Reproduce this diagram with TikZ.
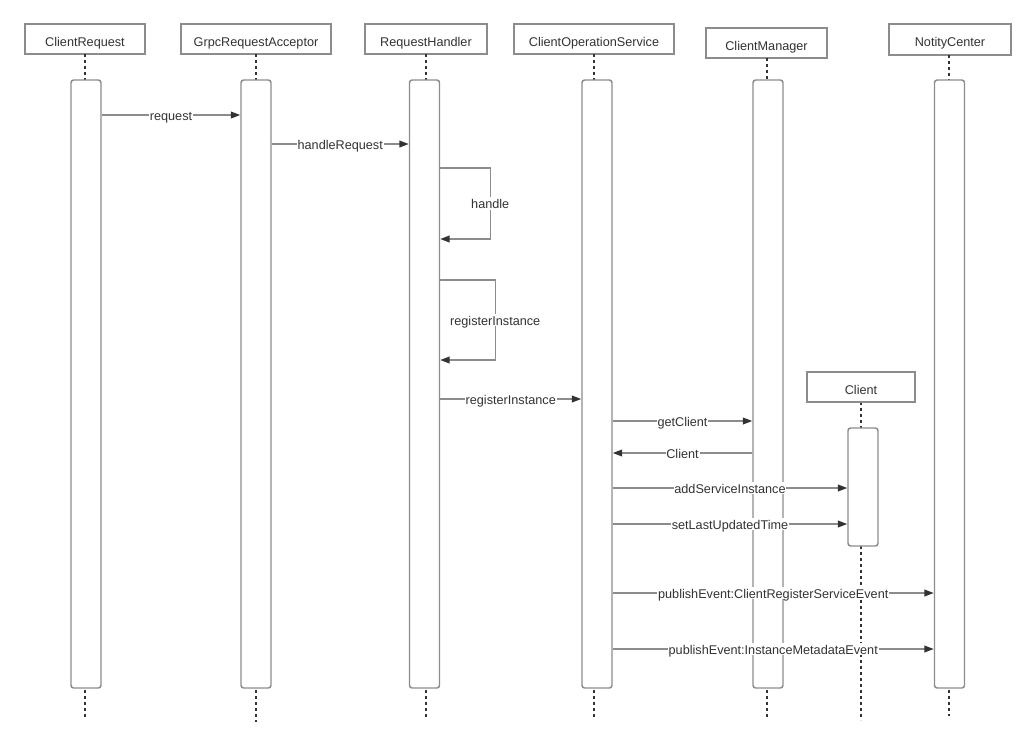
\documentclass[tikz,border=0pt]{standalone}
\usepackage{fontspec}
\setmainfont{Liberation Sans}
\usetikzlibrary{arrows.meta}
\definecolor{linegray}{HTML}{8C8C8C}
\definecolor{txtgray}{HTML}{333333}
\tikzset{
  actor/.style={draw=linegray,line width=1.1pt,fill=white,text=txtgray,
    minimum height=22.5pt,inner sep=0pt,text height=12pt,text depth=0.8pt},
  bar/.style={draw=linegray,line width=1.1pt,fill=white,rounded corners=2pt,
    minimum width=22.5pt,inner sep=0pt},
  life/.style={txtgray,line width=1.6pt,dash pattern=on 2.2pt off 2.3pt},
  msg/.style={draw=linegray,line width=1.1pt,
    -{Triangle[length=7pt,width=5pt,color=txtgray]}},
  lbl/.style={fill=white,text=txtgray,inner sep=0.6pt,text height=8pt,text depth=0.5pt}
}
\begin{document}
\begin{tikzpicture}[x=0.75pt,y=-0.75pt,font=\fontsize{9.5}{11}\selectfont]
        \useasboundingbox (0,0) rectangle (1035,751);
        % actors
        \node[actor,minimum width=90pt] (cr) at (85,39) {ClientRequest};
        \node[actor,minimum width=112.5pt] (gra) at (256,39) {GrpcRequestAcceptor};
        \node[actor,minimum width=91.5pt] (rh) at (426,39) {RequestHandler};
        \node[actor,minimum width=120pt] (cos) at (594,39) {ClientOperationService};
        \node[actor,minimum width=90.75pt] (cm) at (766.5,43) {ClientManager};
        \node[actor,minimum width=91.5pt,minimum height=23.25pt] (nc) at (950,39.5) {NotityCenter};
        % lifelines
        \draw[life] (85,54) -- (85,80);
        \draw[life] (85,690) -- (85,717);
        \draw[life] (256,54) -- (256,80);
        \draw[life] (256,690) -- (256,722);
        \draw[life] (426,54) -- (426,80);
        \draw[life] (426,690) -- (426,717);
        \draw[life] (594,54) -- (594,80);
        \draw[life] (594,690) -- (594,717);
        \draw[life] (767,58) -- (767,80);
        \draw[life] (767,690) -- (767,718);
        \draw[life] (949,55) -- (949,80);
        \draw[life] (949,690) -- (949,716);
        \draw[life] (861,402) -- (861,720);
        \node[actor,minimum width=81pt] (cl) at (861,387) {Client};
        % activations
        \node[bar,minimum height=456pt] (crb) at (86,384) {};
        \node[bar,minimum height=456pt] (grab) at (256,384) {};
        \node[bar,minimum height=456pt] (rhb) at (424.5,384) {};
        \node[bar,minimum height=456pt] (cosb) at (597,384) {};
        \node[bar,minimum height=456pt] (cmb) at (768,384) {};
        \node[bar,minimum height=456pt] (ncb) at (949.5,384) {};
        \node[bar,minimum height=88.5pt] (clb) at (863,487) {};
        % messages
        \draw[msg] (crb.east |- 0,115) -- node[lbl] {request} (grab.west |- 0,115);
        \draw[msg] (grab.east |- 0,144) -- node[lbl] {handleRequest} (rhb.west |- 0,144);
        \draw[msg] (rhb.east |- 0,168) -- ++(50,0) -- node[lbl] {handle} ++(0,71) -- (rhb.east |- 0,239);
        \draw[msg] (rhb.east |- 0,280) -- ++(55,0) -- node[lbl] {registerInstance} ++(0,80) -- (rhb.east |- 0,360);
        \draw[msg] (rhb.east |- 0,399) -- node[lbl] {registerInstance} (cosb.west |- 0,399);
        \draw[msg] (cosb.east |- 0,421) -- node[lbl] {getClient} (cmb.west |- 0,421);
        \draw[msg] (cmb.west |- 0,453) -- node[lbl] {Client} (cosb.east |- 0,453);
        \draw[msg] (cosb.east |- 0,488) -- node[lbl] {addServiceInstance} (clb.west |- 0,488);
        \draw[msg] (cosb.east |- 0,524) -- node[lbl] {setLastUpdatedTime} (clb.west |- 0,524);
        \draw[msg] (cosb.east |- 0,593) -- node[lbl] {publishEvent:ClientRegisterServiceEvent} (ncb.west |- 0,593);
        \draw[msg] (cosb.east |- 0,649) -- node[lbl] {publishEvent:InstanceMetadataEvent} (ncb.west |- 0,649);
\end{tikzpicture}
\end{document}
